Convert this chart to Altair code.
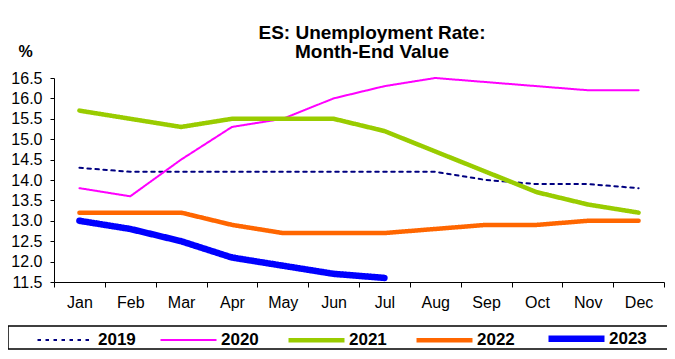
import altair as alt
import pandas as pd

months = ["Jan", "Feb", "Mar", "Apr", "May", "Jun", "Jul", "Aug", "Sep", "Oct", "Nov", "Dec"]
years = ["2019", "2020", "2021", "2022", "2023"]
v2019 = [14.3, 14.2, 14.2, 14.2, 14.2, 14.2, 14.2, 14.2, 14.0, 13.9, 13.9, 13.8]
v2020 = [13.8, 13.6, 14.5, 15.3, 15.5, 16.0, 16.3, 16.5, 16.4, 16.3, 16.2, 16.2]
v2021 = [15.7, 15.5, 15.3, 15.5, 15.5, 15.5, 15.2, 14.7, 14.2, 13.7, 13.4, 13.2]
v2022 = [13.2, 13.2, 13.2, 12.9, 12.7, 12.7, 12.7, 12.8, 12.9, 12.9, 13.0, 13.0]
v2023 = [13.0, 12.8, 12.5, 12.1, 11.9, 11.7, 11.6]
y_ticks = [11.5, 12.0, 12.5, 13.0, 13.5, 14.0, 14.5, 15.0, 15.5, 16.0, 16.5]

colors = ["#000080", "#FF00FF", "#99CC00", "#FF6600", "#0000FF"]
widths = [2, 2, 4.5, 4.5, 6.5]
dashes = [[3.5, 4.5], [1, 0], [1, 0], [1, 0], [1, 0]]

rows = []
for yr, vals in zip(years, [v2019, v2020, v2021, v2022, v2023]):
    for m, v in zip(months, vals):
        rows.append({"month": m, "year": yr, "value": v})
df = pd.DataFrame(rows)

FONT = "Liberation Sans"

lines = alt.Chart(df).mark_line(strokeCap="round", strokeJoin="round").encode(
    x=alt.X("month:N", sort=months,
            scale=alt.Scale(domain=months, paddingInner=0, paddingOuter=0),
            axis=alt.Axis(title=None, labelAngle=0, tickBand="extent", tickSize=5,
                          labelPadding=7, labelFontSize=16, labelColor="black",
                          domainColor="black", tickColor="black", labelFont=FONT)),
    y=alt.Y("value:Q",
            scale=alt.Scale(domain=[11.5, 16.5], nice=False, zero=False),
            axis=alt.Axis(values=y_ticks, format=".1f", grid=False, tickSize=4,
                          labelPadding=8, labelFontSize=16, labelColor="black",
                          domainColor="black", tickColor="black", labelFont=FONT,
                          title="%", titleAngle=0, titleX=-29, titleY=-19,
                          titleAlign="center", titleBaseline="bottom",
                          titleFontSize=16, titleFontWeight="bold", titleFont=FONT)),
    color=alt.Color("year:N", scale=alt.Scale(domain=years, range=colors),
                    legend=alt.Legend(title=None, orient="none", direction="horizontal",
                                      columns=5, legendX=-20, legendY=229,
                                      symbolType="stroke", symbolSize=3136,
                                      labelFontSize=17, labelFontWeight="bold",
                                      labelFont=FONT, labelColor="black",
                                      labelOffset=1, columnPadding=20, padding=0)),
    strokeWidth=alt.StrokeWidth("year:N", scale=alt.Scale(type="ordinal", domain=years, range=widths)),
    strokeDash=alt.StrokeDash("year:N", scale=alt.Scale(domain=years, range=dashes)),
)

frame_df = pd.DataFrame({"k": [0]})
legend_box = alt.Chart(frame_df).mark_rect(fill="white", stroke="black", strokeWidth=1.5).encode(
    x=alt.value(-46), x2=alt.value(640), y=alt.value(248), y2=alt.value(271)
)
top_line = alt.Chart(frame_df).mark_rect(fill="#8a8a8a").encode(
    x=alt.value(-60), x2=alt.value(640), y=alt.value(-75), y2=alt.value(-73)
)

chart = alt.layer(top_line, legend_box, lines).properties(
    width=610, height=204,
    autosize=alt.AutoSizeParams(type="none"),
    padding={"left": 46, "top": 70, "right": 3, "bottom": 69},
    title=alt.TitleParams(["ES: Unemployment Rate:", "Month-End Value"], fontSize=19,
                          fontWeight="bold", font=FONT, color="black", anchor="middle",
                          dx=13, lineHeight=19, offset=-59),
).configure_view(stroke=None)

chart.save("out.html", embed_options={"renderer": "svg", "actions": False})
